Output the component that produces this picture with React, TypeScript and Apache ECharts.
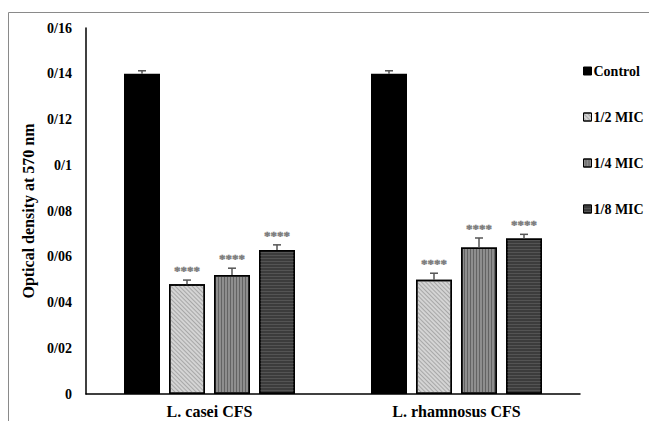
import React, { useEffect, useRef } from "react";
import * as echarts from "echarts";

const categories = ["L. casei CFS", "L. rhamnosus CFS"];
const seriesNames = ["Control", "1/2 MIC", "1/4 MIC", "1/8 MIC"];
const controlValues = [0.14, 0.14];
const halfMicValues = [0.048, 0.05];
const quarterMicValues = [0.052, 0.064];
const eighthMicValues = [0.063, 0.068];
const controlErrors = [0.0013, 0.0013];
const halfMicErrors = [0.0018, 0.0028];
const quarterMicErrors = [0.003, 0.0042];
const eighthMicErrors = [0.0022, 0.0018];
const significance = ["", "****", "****", "****"];
const yTickLabels = ["0", "0/02", "0/04", "0/06", "0/08", "0/1", "0/12", "0/14", "0/16"];
const yAxisTitle = "Optical density at 570 nm";

const FONT = "'Liberation Serif', 'Times New Roman', serif";
const BAR_W = 36;
const BAR_GAP = 9;

export default function App() {
  const ref = useRef<HTMLDivElement>(null);
  useEffect(() => {
    if (!ref.current) return;
    const chart = echarts.init(ref.current, null, { renderer: "svg" });
    const values = [controlValues, halfMicValues, quarterMicValues, eighthMicValues];
    const errors = [controlErrors, halfMicErrors, quarterMicErrors, eighthMicErrors];
    const styles = [
      { color: "#000000", borderColor: "#000", borderWidth: 1.5 },
      {
        color: "#d4d4d4",
        borderColor: "#000",
        borderWidth: 1.5,
        decal: { symbol: "rect", color: "rgba(130,130,130,0.55)", dashArrayX: [1, 0], dashArrayY: [1, 2], rotation: Math.PI / 4 },
      },
      {
        color: "#8e8e8e",
        borderColor: "#000",
        borderWidth: 1.5,
        decal: { symbol: "rect", color: "rgba(70,70,70,0.6)", dashArrayX: [1, 0], dashArrayY: [1, 2], rotation: Math.PI / 2 },
      },
      {
        color: "#3c3c3c",
        borderColor: "#000",
        borderWidth: 1.5,
        decal: { symbol: "rect", color: "rgba(90,90,90,0.8)", dashArrayX: [1, 0], dashArrayY: [1, 2], rotation: 0 },
      },
    ];
    const barSeries = seriesNames.map((name, i) => ({
      name,
      type: "bar",
      barWidth: BAR_W,
      barGap: "25%",
      itemStyle: styles[i],
      emphasis: { disabled: true },
      data: values[i],
    }));
    const errData: any[] = [];
    values.forEach((arr, s) => {
      arr.forEach((v, c) => {
        errData.push([c, v, errors[s][c], s]);
      });
    });
    const errSeries = {
      type: "custom",
      name: "errors",
      z: 10,
      silent: true,
      itemStyle: { color: "#777" },
      data: errData,
      renderItem: (params: any, api: any) => {
        const c = api.value(0);
        const v = api.value(1);
        const e = api.value(2);
        const s = api.value(3);
        const base = api.coord([c, v]);
        const top = api.coord([c, v + e]);
        const x = base[0] + (s - 1.5) * (BAR_W + BAR_GAP);
        const children: any[] = [
          { type: "line", shape: { x1: x, y1: base[1], x2: x, y2: top[1] }, style: { stroke: "#555", lineWidth: 1.5 } },
          { type: "line", shape: { x1: x - 4, y1: top[1], x2: x + 4, y2: top[1] }, style: { stroke: "#555", lineWidth: 1.5 } },
        ];
        if (significance[s]) {
          children.push({
            type: "text",
            style: {
              x: x,
              y: top[1] - 3,
              text: significance[s],
              fill: "#7a7a7a",
              stroke: "#7a7a7a",
              lineWidth: 0.4,
              font: `bold 13px ${FONT}`,
              align: "center",
              verticalAlign: "bottom",
            },
          });
        }
        return { type: "group", children };
      },
    };
    chart.setOption({
      animation: false,
      textStyle: { fontFamily: FONT },
      graphic: [
        {
          type: "rect",
          shape: { x: 8.5, y: 12.5, width: 700, height: 500 },
          style: { fill: "none", stroke: "#8a8a8a", lineWidth: 1 },
          silent: true,
        },
      ],
      grid: { left: 86, right: 69, top: 28, bottom: 27 },
      legend: {
        data: seriesNames,
        orient: "vertical",
        left: 578,
        top: 59,
        itemWidth: 8,
        itemHeight: 8,
        itemGap: 32,
        icon: "rect",
        selectedMode: false,
        textStyle: { fontFamily: FONT, fontWeight: "bold", fontSize: 14, color: "#000", lineHeight: 14, padding: [0, 0, 0, -3] },
        itemStyle: { borderColor: "#000", borderWidth: 1 },
      },
      xAxis: {
        type: "category",
        data: categories,
        axisLine: { lineStyle: { color: "#000", width: 1.5 } },
        axisTick: { show: false },
        axisLabel: { fontFamily: FONT, fontWeight: "bold", fontSize: 16, color: "#000", margin: 9 },
      },
      yAxis: {
        type: "value",
        min: 0,
        max: 0.16,
        interval: 0.02,
        name: yAxisTitle,
        nameLocation: "middle",
        nameGap: 50,
        nameRotate: 90,
        nameTextStyle: { fontFamily: FONT, fontWeight: "bold", fontSize: 16, color: "#000" },
        axisLine: { show: true, lineStyle: { color: "#000", width: 1.5 } },
        axisTick: { show: false },
        splitLine: { show: false },
        axisLabel: {
          fontFamily: FONT,
          fontWeight: "bold",
          fontSize: 14,
          color: "#000",
          margin: 14,
          formatter: (val: number) => yTickLabels[Math.round(val / 0.02)],
        },
      },
      series: [...barSeries, errSeries],
    });
    return () => chart.dispose();
  }, []);
  return <div ref={ref} style={{ position: "absolute", left: 0, top: 0, width: 649, height: 421 }} />;
}
